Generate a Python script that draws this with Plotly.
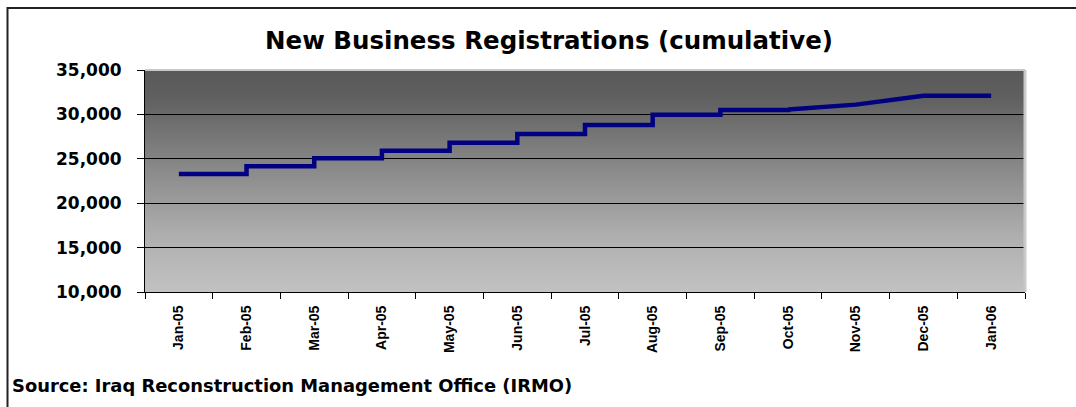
import base64
import plotly.graph_objects as go

# ---- data ----
months = ["Jan-05", "Feb-05", "Mar-05", "Apr-05", "May-05", "Jun-05", "Jul-05",
          "Aug-05", "Sep-05", "Oct-05", "Nov-05", "Dec-05", "Jan-06"]
registrations = [23300, 24150, 25050, 25900, 26800, 27800, 28800,
                 29950, 30500, 30550, 31100, 32100, 32100]
y_ticks = [10000, 15000, 20000, 25000, 30000, 35000]
title_text = "New Business Registrations (cumulative)"
source_text = "Source: Iraq Reconstruction Management Office (IRMO)"

# ---- layout geometry (pixels) ----
W, H = 1076, 407
L, R, T, B = 145, 1025, 70, 292   # plot-area edges

def px_x(px):
    return (px - L) / (R - L)

def px_y(py):
    return (B - py) / (B - T)

WIDE = "DejaVu Sans, Verdana, sans-serif"
ARIAL = "Liberation Sans, Arial, sans-serif"
LINE_COLOR = "#000080"

# step part (monthly jumps) and smooth part (end of year)
split = months.index("Oct-05")

fig = go.Figure()
fig.add_trace(go.Scatter(
    x=months[:split + 1], y=registrations[:split + 1],
    mode="lines", line=dict(color=LINE_COLOR, width=4.5, shape="hv"),
    showlegend=False, hoverinfo="skip"))
fig.add_trace(go.Scatter(
    x=months[split:], y=registrations[split:],
    mode="lines", line=dict(color=LINE_COLOR, width=4.5, shape="linear"),
    showlegend=False, hoverinfo="skip"))

# gradient background for plot area (svg image)
svg = ('<svg xmlns="http://www.w3.org/2000/svg" width="100" height="100" preserveAspectRatio="none">'
       '<defs><linearGradient id="g" x1="0" y1="0" x2="0" y2="1">'
       '<stop offset="0" stop-color="#595959"/>'
       '<stop offset="0.12" stop-color="#5f5f5f"/>'
       '<stop offset="0.45" stop-color="#8a8a8a"/>'
       '<stop offset="0.75" stop-color="#afafaf"/>'
       '<stop offset="1" stop-color="#c2c2c2"/>'
       '</linearGradient></defs>'
       '<rect width="100" height="100" fill="url(#g)"/></svg>')
src = "data:image/svg+xml;base64," + base64.b64encode(svg.encode()).decode()

fig.update_layout(
    width=W, height=H,
    margin=dict(l=L, r=W - R, t=T, b=H - B, pad=0),
    paper_bgcolor="white",
    plot_bgcolor="rgba(0,0,0,0)",
    images=[dict(source=src, xref="paper", yref="paper", x=0, y=1,
                 sizex=1, sizey=1, xanchor="left", yanchor="top",
                 sizing="stretch", layer="below")],
    title=dict(text=title_text, x=549 / W, xanchor="center",
               y=1 - 40 / H, yanchor="middle", yref="container",
               font=dict(family=WIDE, size=24.5, color="black", weight="bold")),
    xaxis=dict(
        type="category", categoryorder="array", categoryarray=months,
        range=[-0.5, len(months) - 0.5],
        tickangle=-90, tickson="boundaries", ticks="outside", ticklen=6,
        tickcolor="black", tickwidth=1,
        showline=True, linecolor="black", linewidth=1,
        showgrid=False, zeroline=False, ticklabelstandoff=7,
        tickfont=dict(family=ARIAL, size=14, color="black", weight="bold")),
    yaxis=dict(
        range=[10000, 35000], tickvals=y_ticks, tickformat=",d",
        ticks="outside", ticklen=7, tickcolor="black", tickwidth=1,
        showline=True, linecolor="black", linewidth=1,
        showgrid=True, gridcolor="black", gridwidth=1, zeroline=False,
        ticklabelstandoff=12,
        tickfont=dict(family=WIDE, size=17, color="black", weight="bold")),
    annotations=[dict(text=source_text, xref="paper", yref="paper",
                      x=px_x(10), y=px_y(385), xanchor="left", yanchor="middle",
                      showarrow=False,
                      font=dict(family=WIDE, size=17.9, color="black", weight="bold"))],
    shapes=[
        # light borders on top and right of plot area
        dict(type="line", xref="paper", yref="paper", x0=0, x1=1, y0=1, y1=1,
             line=dict(color="#c8c8c8", width=2), layer="above"),
        dict(type="line", xref="paper", yref="paper", x0=1, x1=1, y0=0, y1=1,
             line=dict(color="#c8c8c8", width=3), layer="above"),
        # outer chart frame (extends past the window on right/bottom)
        dict(type="rect", xref="paper", yref="paper",
             x0=px_x(7.5), x1=px_x(1100), y0=px_y(8), y1=px_y(430),
             line=dict(color="#222222", width=2), fillcolor="rgba(0,0,0,0)",
             layer="above"),
    ],
)

fig.write_html("out.html", config={"displayModeBar": False},
               post_script="document.body.style.margin='0px';")
